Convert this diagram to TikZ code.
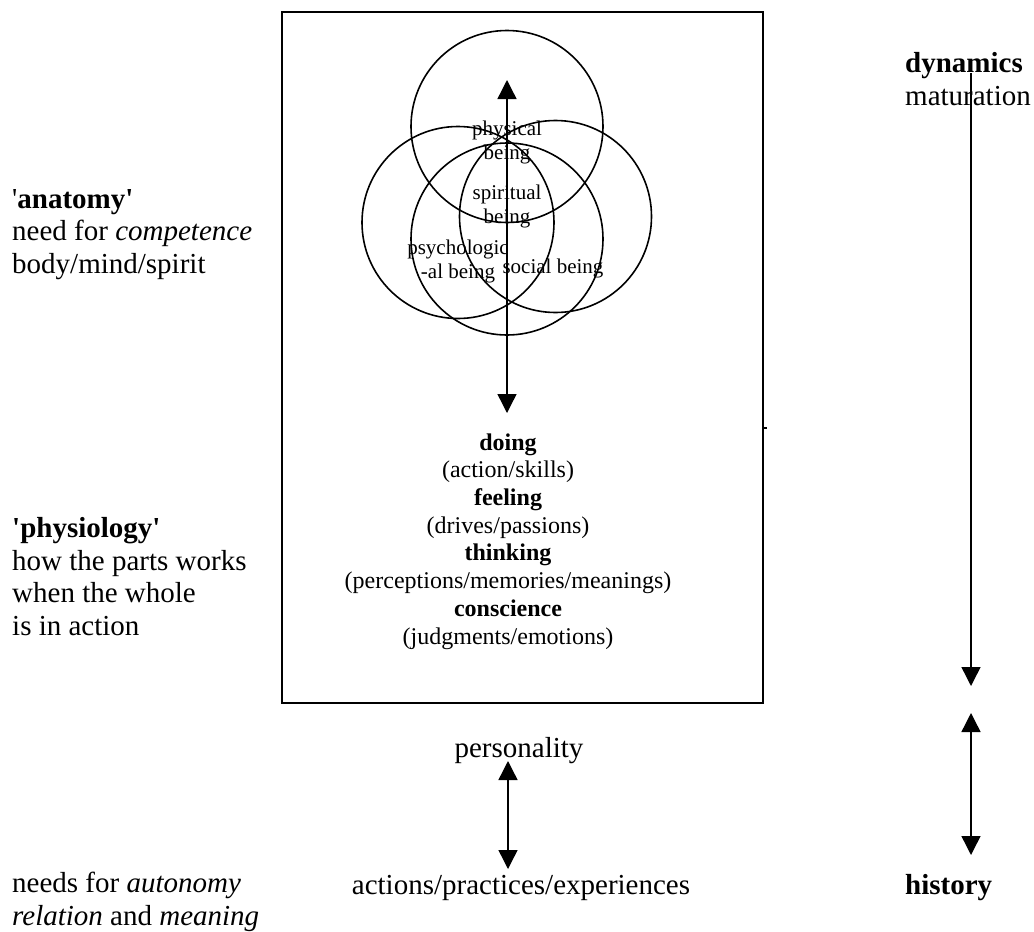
\documentclass[tikz,border=0pt]{standalone}
\usepackage{fontspec}
\setmainfont{Liberation Serif}
\usetikzlibrary{arrows.meta}
\begin{document}
\begin{tikzpicture}[x=1pt,y=-1pt,
  big/.style={font=\fontsize{29}{32.5}\selectfont, inner sep=0pt, align=left, anchor=base west},
  mid/.style={font=\fontsize{24}{27.7}\selectfont, inner sep=0pt, align=center, anchor=base},
  small/.style={font=\fontsize{21}{24}\selectfont, inner sep=0pt, align=center, anchor=base},
  ring/.style={draw, line width=1.6pt},
  frame/.style={draw, line width=2pt},
  conn/.style={line width=1.4pt},
  tip/.style={-{Triangle[width=19pt,length=19pt]}},
  tips/.style={{Triangle[width=19pt,length=19pt]}-{Triangle[width=19pt,length=19pt]}},
]
\useasboundingbox (0,0) rectangle (1034,932);
% frame
\draw[frame] (282,12) rectangle (763,703);
\draw[frame] (763,428) -- (767,428);
% circles
\draw[ring] (507,126.5) circle[radius=96pt];
\draw[ring] (458,222.5) circle[radius=96pt];
\draw[ring] (555.5,216.5) circle[radius=96pt];
\draw[ring] (507,239) circle[radius=96pt];
% circle labels (anchor base = last line)
\node[small] (phys) at (507,159) {physical\\being};
\node[small] (spir) at (507,223) {spiritual\\being};
\node[small] (psych) at (458,278) {psychologic\\-al being};
\node[small] (soc) at (553,273) {social being};
% inner list
\node[mid] (list) at (508,644) {\textbf{doing}\\(action/skills)\\\textbf{feeling}\\(drives/passions)\\\textbf{thinking}\\(perceptions/memories/meanings)\\\textbf{conscience}\\(judgments/emotions)};
% left texts
\node[big] (anat) at (12,273) {\textquotesingle\textbf{anatomy\textquotesingle}\\need for \textit{competence}\\body/mind/spirit};
\node[big] (physio) at (12,635) {\textbf{\textquotesingle physiology\textquotesingle}\\how the parts works\\when the whole\\is in action};
\node[big] (needs) at (12,925) {needs for \textit{autonomy}\\\textit{relation} and \textit{meaning}};
% bottom centre
\node[big, anchor=base] (pers) at (519,757) {personality};
\node[big, anchor=base] (acts) at (521,894) {actions/practices/experiences};
% right
\node[big] (dyn) at (905,105) {\textbf{dynamics}\\maturation};
\node[big] (hist) at (905,894) {\textbf{history}};
% arrows
\coordinate (bt) at (507,80);
\coordinate (bb) at (507,413);
\draw[conn, tips] (bt) -- (bb);
\coordinate (pt) at (508,761);
\coordinate (pb) at (508,869);
\draw[conn, tips] (pt) -- (pb);
\coordinate (r1s) at (971,73);
\coordinate (r1e) at (971,686);
\draw[conn, tip] (r1s) -- (r1e);
\coordinate (r2s) at (971,713);
\coordinate (r2e) at (971,855);
\draw[conn, tips] (r2s) -- (r2e);
\end{tikzpicture}
\end{document}
